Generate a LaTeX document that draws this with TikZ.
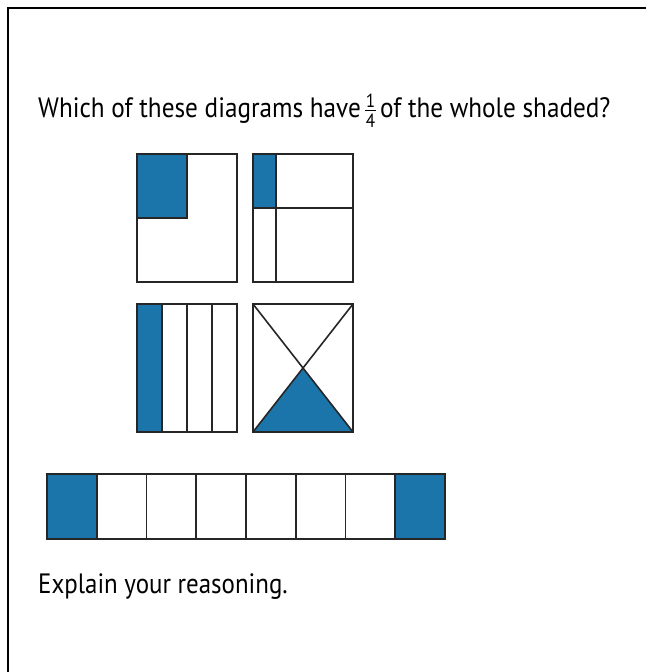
\documentclass[tikz,border=0pt]{standalone}
\usepackage{fontspec}
\setmainfont{PT Sans}
\usepackage{graphicx}
\usetikzlibrary{positioning}
\definecolor{qblue}{RGB}{27,117,170}

\newcommand{\qfrac}[2]{\ensuremath{\vcenter{\hbox{\fontsize{19}{19}\selectfont
  \shortstack{#1\\[-1pt]\rule{12pt}{1.4pt}\\[0pt]#2}}}}}

\begin{document}
\begin{tikzpicture}[x=1pt,y=-1pt,
  part/.style={draw=black!85,line width=1.6pt},
  qtext/.style={anchor=base west,inner sep=0pt,font=\fontsize{28}{32}\selectfont}]
\useasboundingbox (0,0) rectangle (646,672);
% frame
\draw[line width=1.5pt] (8,672) -- (8,8) -- (646,8);
% question
\node[qtext] (question) at (38,117)
  {\scalebox{0.9}[1]{Which of these diagrams have\,\qfrac{1}{4}\,of the whole shaded?}};
% square a: corner quarter
\fill[qblue] (137,154) rectangle (187,218);
\draw[part] (137,218) -| (187,154);
\draw[part] (137,154) rectangle (237,282);
% square b: unequal parts
\fill[qblue] (253,154) rectangle (276,208);
\draw[part] (276,154) -- (276,282);
\draw[part] (253,208) -- (353,208);
\draw[part] (253,154) rectangle (353,282);
% square c: four strips
\fill[qblue] (137,304) rectangle (162,432);
\foreach \x in {162,187,212}{
  \draw[part] (\x,304) -- (\x,432);
}
\draw[part] (137,304) rectangle (237,432);
% square d: diagonals
\fill[qblue] (253,432) -- (303,368) -- (353,432) -- cycle;
\draw[part] (253,304) -- (353,432) (353,304) -- (253,432);
\draw[part] (253,304) rectangle (353,432);
% strip of eight
\foreach \i in {0,7}{
  \fill[qblue] ({47+49.75*\i},474) rectangle ({47+49.75*(\i+1)},539);
}
\foreach \i in {1,...,7}{
  \draw[part] ({47+49.75*\i},474) -- ({47+49.75*\i},539);
}
\draw[part] (47,474) rectangle (445,539);
% prompt
\node[qtext] (explain) at (38,593) {\scalebox{0.89}[1]{Explain your reasoning.}};
\end{tikzpicture}
\end{document}
